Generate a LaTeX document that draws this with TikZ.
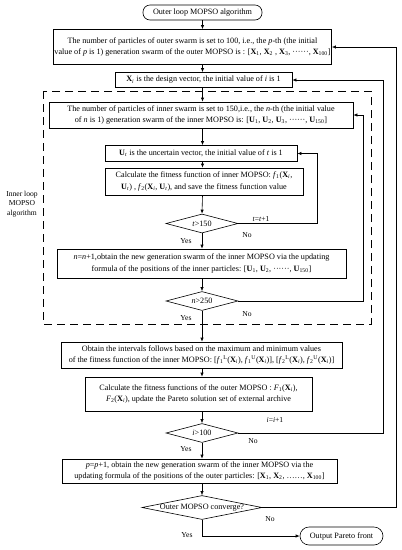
\documentclass[tikz,border=0pt]{standalone}
\usepackage{fontspec}
\setmainfont{Liberation Serif}
\usetikzlibrary{shapes.geometric,arrows.meta}
\newcommand{\bX}{\textbf{X}}
\newcommand{\bU}{\textbf{U}}
\newcommand{\sub}[1]{\textsubscript{#1}}
\begin{document}
\begin{tikzpicture}[x=1pt,y=-1pt,
  every node/.style={font=\fontsize{8.15}{11.2}\selectfont, inner sep=1pt},
  box/.style={draw, line width=0.6pt, align=center, minimum width=#1},
  term/.style={draw, line width=0.6pt, rounded corners=7pt, align=center},
  dia/.style={draw, line width=0.6pt, diamond, aspect=3.8, inner sep=0pt},
  lbl/.style={font=\fontsize{7.6}{9.8}\selectfont},
  arr/.style={line width=0.6pt, -{Latex[length=4pt,width=3.2pt]}},
  ln/.style={line width=0.6pt}]
\useasboundingbox (0,0) rectangle (402,550);
% dashed inner loop frame
\draw[line width=0.7pt, dash pattern=on 8pt off 5pt] (43,91) rectangle (371,324);
\node[align=center, lbl] (innerlbl) at (22,204) {Inner loop\\MOPSO\\algorithm};

\node[term, minimum width=119, minimum height=15] (start) at (202.5,12.5) {Outer loop MOPSO algorithm};
\node[box=275, minimum height=35] (b1) at (192.5,47) {The number of particles of outer swarm is set to 100, i.e., the \textit{p}-th (the initial\\ value of \textit{p} is 1) generation swarm of the outer MOPSO is : [\bX\sub{1}, \bX\sub{2} , \bX\sub{3}, ······, \bX\sub{100}]};
\node[box=177, minimum height=15] (b2) at (203.5,80) {\bX\sub{\textit{i}} is the design vector, the initial value of \textit{i} is 1};
\node[box=304, minimum height=26] (b3) at (201,115) {The number of particles of inner swarm is set to 150,i.e., the \textit{n}-th (the initial value\\ of \textit{n} is 1) generation swarm of the inner MOPSO is: [\bU\sub{1}, \bU\sub{2}, \bU\sub{3}, ······, \bU\sub{150}]};
\node[box=192, minimum height=16] (b4) at (201,153.5) {\bU\sub{\textit{t}} is the uncertain vector, the initial value of \textit{t} is 1};
\node[box=198, minimum height=27] (b5) at (204,181.5) {Calculate the fitness function of inner MOPSO: \textit{f}\sub{1}(\bX\sub{\textit{i}},\\ \bU\sub{\textit{t}}) , \textit{f}\sub{2}(\bX\sub{\textit{i}}, \bU\sub{\textit{t}}), and save the fitness function value};
\node[dia, minimum width=72, minimum height=19] (d1) at (202,223.5) {\textit{t}>150};
\node[box=289, minimum height=29] (b6) at (201.5,263.5) {\textit{n}=\textit{n}+1,obtain the new generation swarm of the inner MOPSO via the updating\\ formula of the positions of the inner particles: [\bU\sub{1}, \bU\sub{2}, ······, \bU\sub{150}]};
\node[dia, minimum width=72, minimum height=19] (d2) at (202,301) {\textit{n}>250};
\node[box=281, minimum height=26] (b7) at (201.5,355) {Obtain the intervals follows based on the maximum and minimum values\\ of the fitness function of the inner MOPSO: [\textit{f}\sub{1}\textsuperscript{L}(\bX\sub{\textit{i}}), \textit{f}\sub{1}\textsuperscript{U}(\bX\sub{\textit{i}})], [\textit{f}\sub{2}\textsuperscript{L}(\bX\sub{\textit{i}}), \textit{f}\sub{2}\textsuperscript{U}(\bX\sub{\textit{i}})]};
\node[box=227, minimum height=34] (b8) at (198.5,394) {Calculate the fitness functions of the outer MOPSO : \textit{F}\sub{1}(\bX\sub{\textit{i}}),\\ \textit{F}\sub{2}(\bX\sub{\textit{i}}), update the Pareto solution set of external archive};
\node[dia, minimum width=72, minimum height=19] (d3) at (202,433) {\textit{i}>100};
\node[box=275, minimum height=24] (b9) at (199.5,471) {\textit{p}=\textit{p}+1, obtain the new generation swarm of the inner MOPSO via the\\ updating formula of the positions of the outer particles: [\bX\sub{1}, \bX\sub{2}, ……, \bX\sub{100}]};
\node[dia, minimum width=120, minimum height=23, aspect=5] (d4) at (202,507.5) {Outer MOPSO converge?};
\node[term, minimum width=83, minimum height=18, rounded corners=9pt] (end) at (341.5,536) {Output Pareto front};

% main flow
\draw[arr] (start.south) -- (start.south |- b1.north);
\draw[arr] (b1.south -| start.south) -- (b2.north -| start.south);
\draw[arr] (b2.south -| start.south) -- (b3.north -| start.south);
\draw[arr] (b3.south -| start.south) -- (b4.north -| start.south);
\draw[arr] (b4.south -| start.south) -- (b5.north -| start.south);
\draw[arr] (b5.south -| start.south) -- (d1.north);
\draw[arr] (d1.south) -- (b6.north -| d1.south);
\draw[arr] (b6.south -| d2.north) -- (d2.north);
\draw[arr] (d2.south) -- (b7.north -| d2.south);
\draw[arr] (b7.south -| d3.north) -- (b8.north -| d3.north);
\draw[arr] (b8.south -| d3.north) -- (d3.north);
\draw[arr] (d3.south) -- (b9.north -| d3.south);
\draw[arr] (b9.south -| d4.north) -- (d4.north);
\coordinate (yc) at (d4.south |- end.west);
\draw[arr] (d4.south) -- (yc) -- (end.west);

% loops
\coordinate (l1) at (317,0);
\coordinate (l2) at (363,0);
\coordinate (l3) at (383,0);
\coordinate (l4) at (396,0);
\draw[arr] (d1.east) -- (d1.east -| l1) -- (b4.east -| l1) -- (b4.east);
\draw[arr] (d2.east) -- (d2.east -| l2) -- (b3.east -| l2) -- (b3.east);
\draw[arr] (d3.east) -- (d3.east -| l3) -- (b2.east -| l3) -- (b2.east);
\draw[arr] (d4.east) -- (d4.east -| l4) -- (b1.east -| l4) -- (b1.east);

% labels
\node[lbl] (t1) at (261,219.5) {\textit{t}=\textit{t}+1};
\node[lbl] (no1) at (247,235) {No};
\node[lbl] (yes1) at (186,241) {Yes};
\node[lbl] (no2) at (247,314) {No};
\node[lbl] (yes2) at (186,318) {Yes};
\node[lbl] (i1) at (275,420) {\textit{i}=\textit{i}+1};
\node[lbl] (no3) at (253,441) {No};
\node[lbl] (yes3) at (186,449) {Yes};
\node[lbl] (no4) at (270,519.5) {No};
\node[lbl] (yes4) at (187,535) {Yes};
\end{tikzpicture}
\end{document}
